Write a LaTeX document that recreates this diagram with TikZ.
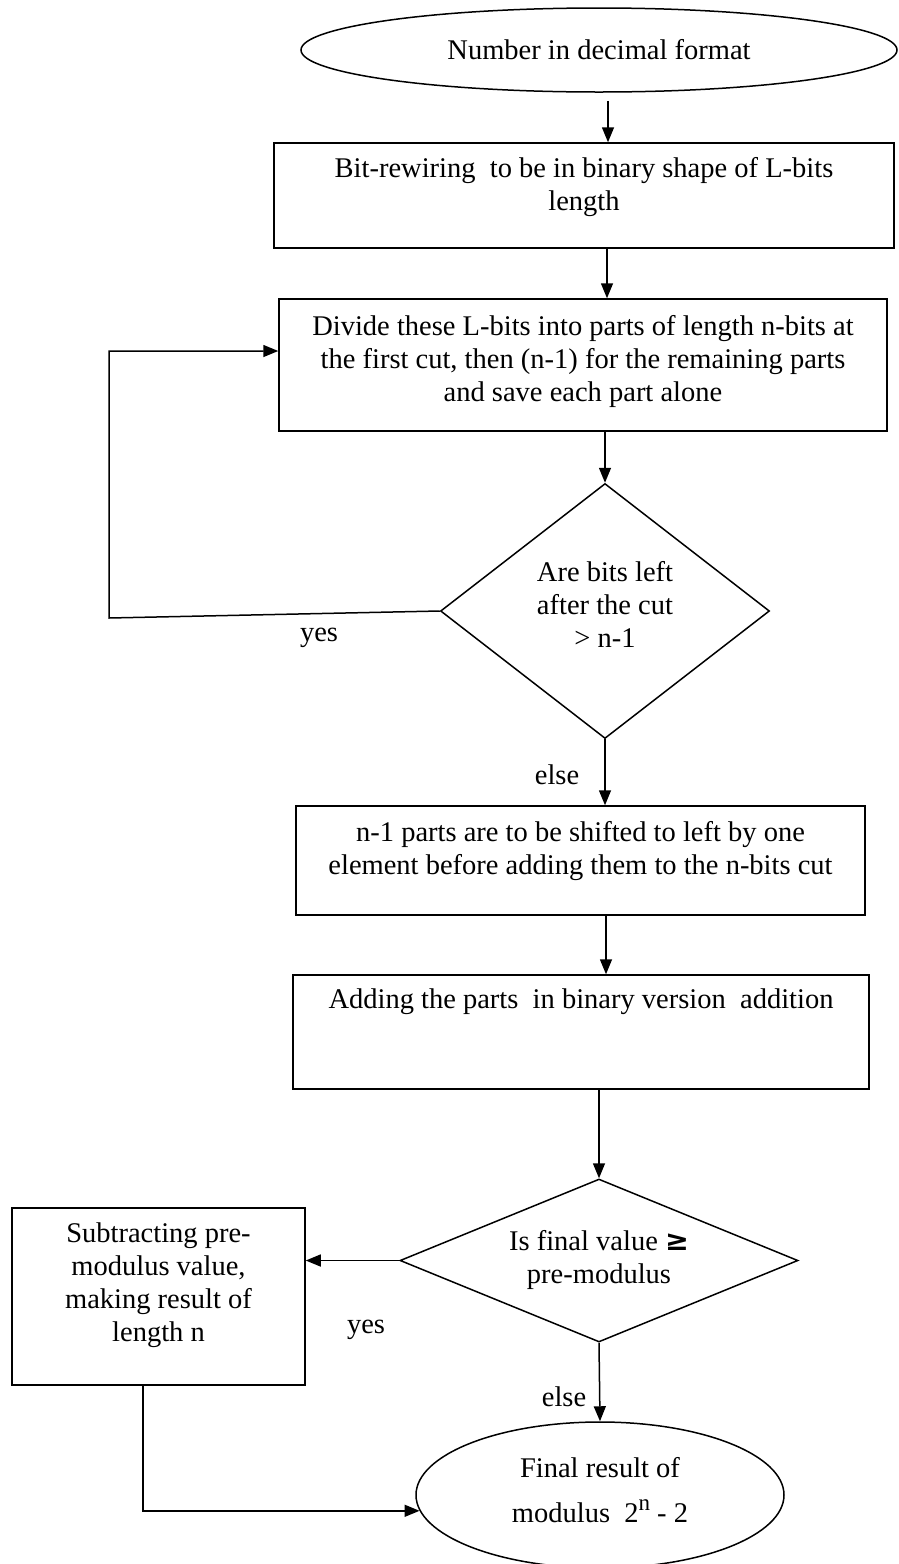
\documentclass[tikz,border=0pt]{standalone}
\usepackage{fontspec}
\setmainfont{Liberation Serif}
\newfontfamily\symfont{DejaVu Sans}
\usetikzlibrary{shapes.geometric,arrows.meta}
\begin{document}
\begin{tikzpicture}[x=1pt,y=-1pt,
  every node/.style={font=\fontsize{28.5pt}{33pt}\selectfont, inner sep=0pt},
  box/.style={draw, line width=1.5pt, rectangle},
  oval/.style={draw, line width=1.5pt, ellipse},
  decision/.style={draw, line width=1.5pt, diamond},
  txt/.style={align=center},
  arr/.style={line width=1.5pt, -{Triangle[length=15pt,width=12pt]}}]
\fill[white] (0,0) rectangle (898,1564);
\useasboundingbox (0,0) rectangle (898,1564);

% start
\node[oval, minimum width=596pt, minimum height=84pt] (e1) at (599,50) {Number in decimal format};

% box 1
\node[box, minimum width=620pt, minimum height=105pt] (b1) at (584,195.5) {};
\node[txt] (t1) at (584,187) {Bit-rewiring\ \ to be in binary shape of L-bits\\length};
\draw[arr] ([xshift=9pt,yshift=-8pt]e1.south) -- ([xshift=24pt]b1.north);

% box 2
\node[box, minimum width=608pt, minimum height=132pt] (b2) at (583,365) {};
\node[txt] (t2) at (583,361) {Divide these L-bits into parts of length n-bits at\\the first cut, then (n-1) for the remaining parts\\and save each part alone};
\draw[arr] ([xshift=23pt]b1.south) -- ([xshift=23pt]b1.south |- b2.north);

% decision 1
\node[decision, aspect=1.29, minimum width=329pt, minimum height=255pt] (d1) at (605,611) {};
\node[txt] (t3) at (605,604) {Are bits left\\after the cut\\> n-1};
\draw[arr] (b2.south -| d1.north) -- (d1.north);

% loop back
\coordinate (l1) at (109,618);
\coordinate (l2) at (109,351);
\draw[arr] (d1.west) -- (l1) -- (l2) -- (l2 -| b2.west);
\node (y1) at (319,638) {yes};

% box 3
\node[box, minimum width=569pt, minimum height=109pt] (b3) at (580.5,860.5) {};
\node[txt] (t4) at (580.5,851) {n-1 parts are to be shifted to left by one\\element before adding them to the n-bits cut};
\draw[arr] (d1.south) -- (d1.south |- b3.north);
\node (el1) at (557,775) {else};

% box 4
\node[box, minimum width=576pt, minimum height=114pt] (b4) at (581,1032) {};
\node (t5) at (581,1002) {Adding the parts\ \ in binary version\ \ addition};
\draw[arr] ([xshift=25.5pt]b3.south) -- ([xshift=25.5pt]b3.south |- b4.north);

% decision 2
\node[decision, aspect=2.44, minimum width=398pt, minimum height=163pt] (d2) at (599,1260.5) {};
\node[txt] (t6) at (599,1260) {Is final value {\symfont\bfseries ≥}\\pre-modulus};
\draw[arr] (b4.south -| d2.north) -- (d2.north);

% box 5
\node[box, minimum width=293pt, minimum height=177pt] (b5) at (158.5,1296.5) {};
\node[txt] (t7) at (158.5,1285.5) {Subtracting pre-\\modulus value,\\making result of\\length n};
\draw[arr] (d2.west) -- (d2.west -| b5.east);
\node (y2) at (366,1330) {yes};

% end
\node[oval, minimum width=368pt, minimum height=146pt] (e2) at (600,1495) {};
\node[txt] (t8) at (600,1490) {Final result of\\[12pt]modulus\ \ 2\raisebox{12pt}{\fontsize{23pt}{23pt}\selectfont n}\ - 2};
\draw[arr] (d2.south) -- (e2.north);
\node (el2) at (564,1397) {else};
\draw[arr] ([xshift=-15.5pt]b5.south) |- (e2.185);
\end{tikzpicture}
\end{document}
